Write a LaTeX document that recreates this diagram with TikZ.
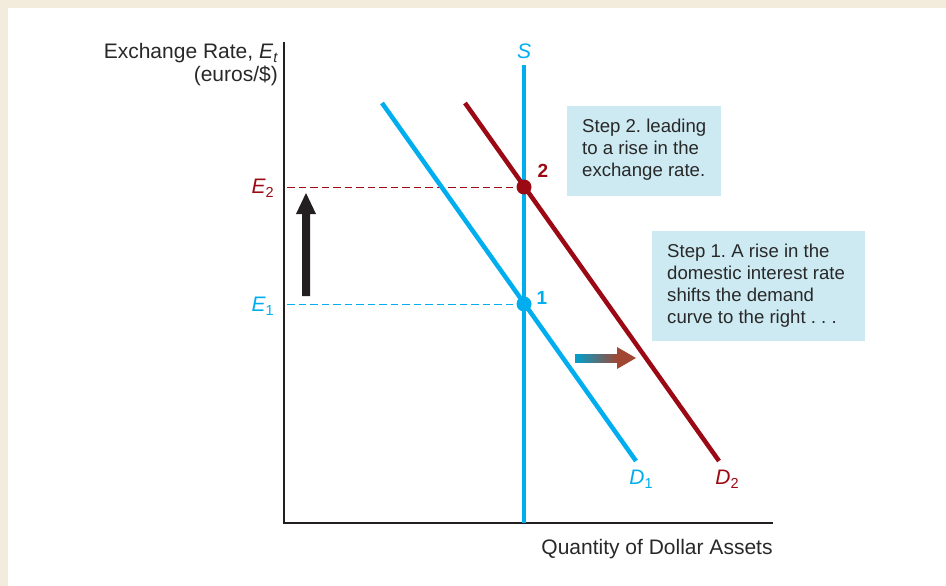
\documentclass[tikz,border=0pt]{standalone}
\usepackage{fontspec}
\setmainfont{Liberation Sans}
\frenchspacing
\definecolor{cy}{RGB}{0,174,239}
\definecolor{dr}{RGB}{155,10,20}
\definecolor{bx}{RGB}{205,234,242}
\definecolor{bgc}{RGB}{243,235,220}
\definecolor{axc}{RGB}{35,31,32}
\definecolor{txc}{RGB}{40,40,40}
\definecolor{arl}{RGB}{0,160,205}
\definecolor{arr}{RGB}{160,70,50}
\newcommand\sbs[1]{\raisebox{-0.35ex}{\fontsize{14.5}{14.5}\selectfont #1}}
\tikzset{
  lbl/.style={font=\fontsize{21}{23}\selectfont, inner sep=0pt, text=txc},
  boxtxt/.style={font=\fontsize{18.6}{22}\selectfont, inner sep=0pt, anchor=west, align=left, text=txc},
  curve/.style={line width=4.5pt},
  dash line/.style={line width=0.9pt, dash pattern=on 7.5pt off 4pt},
}
\begin{document}
\begin{tikzpicture}[x=1pt,y=-1pt]
\useasboundingbox (0,0) rectangle (946,586);
\fill[bgc] (0,0) rectangle (946,8);
\fill[bgc] (0,0) rectangle (8,586);
% axes
\coordinate (top) at (284,42);
\coordinate (org) at (284,523);
\coordinate (xend) at (773,523);
\draw[axc, line width=1.6pt] (top) -- (org) -- (xend);
% dashed lines
\coordinate (e2a) at (287,187);
\coordinate (e1a) at (287,304);
\coordinate (p2) at (524,187);
\coordinate (p1) at (524,304);
\draw[dr, dash line] (e2a) -- (p2);
\draw[cy, dash line] (e1a) -- (p1);
% curves
\coordinate (d1s) at (382,103);
\coordinate (d1e) at (636,461);
\coordinate (d2s) at (465,103);
\coordinate (d2e) at (719,461);
\coordinate (ss) at (524,65);
\coordinate (se) at (524,523);
\draw[cy, curve] (d1s) -- (d1e);
\draw[dr, curve] (d2s) -- (d2e);
\draw[cy, curve] (ss) -- (se);
\node[circle, fill=dr, minimum size=15pt, inner sep=0] (pt2) at (p2) {};
\node[circle, fill=cy, minimum size=15pt, inner sep=0] (pt1) at (p1) {};
% labels
\node[lbl, anchor=east, align=right] (ttl) at (278,65) {Exchange Rate, \textit{E}\sbs{\textit{t}}\\(euros/\$)};
\node[lbl, anchor=east, text=dr] (E2) at (274,188) {\textit{E}\sbs{2}};
\node[lbl, anchor=east, text=cy] (E1) at (274,306) {\textit{E}\sbs{1}};
\node[lbl, text=cy] (S) at (524,51) {\textit{S}};
\node[lbl, text=cy] (D1) at (641,479) {\textit{D}\sbs{1}};
\node[lbl, text=dr] (D2) at (727,479) {\textit{D}\sbs{2}};
\node[lbl, text=dr, font=\fontsize{19}{22}\selectfont\bfseries] (n2) at (543,171) {2};
\node[lbl, text=cy, font=\fontsize{19}{22}\selectfont\bfseries] (n1) at (542,298) {1};
\node[lbl] (xl) at (657,549) {Quantity of Dollar Assets};
% boxes
\fill[bx] (567,106) rectangle (721,196);
\node[boxtxt] (b2) at (582,150) {Step 2. leading\\to a rise in the\\exchange rate.};
\fill[bx] (652,231) rectangle (865,341);
\node[boxtxt] (b1) at (667,286) {Step 1. A rise in the\\domestic interest rate\\shifts the demand\\curve to the right . . .};
% black arrow
\fill[axc] (302,296) -- (302,214) -- (296,214) -- (306,193) -- (316,214) -- (310,214) -- (310,296) -- cycle;
% gradient arrow
\shade[left color=arl, right color=arr] (575,354) rectangle (618,362);
\fill[arr] (617,347) -- (636,358) -- (617,369) -- cycle;
\end{tikzpicture}
\end{document}
